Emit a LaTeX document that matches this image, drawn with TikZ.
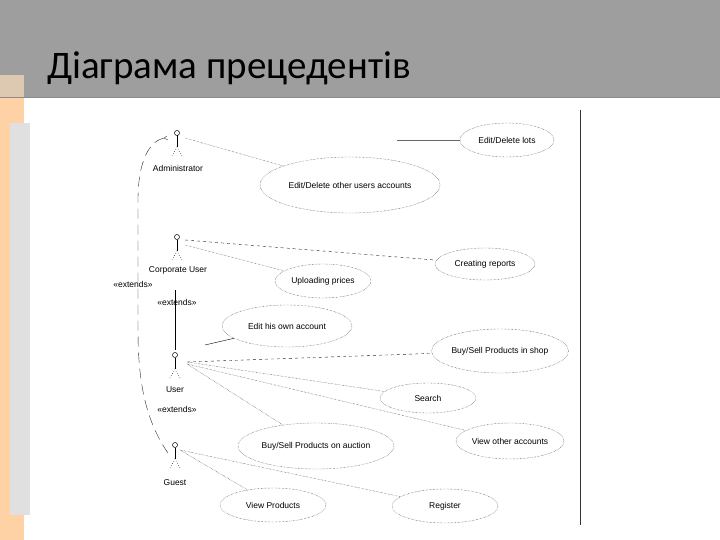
\documentclass[tikz,border=0pt]{standalone}
\usepackage{fontspec}
\usetikzlibrary{shapes.geometric}
\setmainfont{Liberation Sans}
\newfontfamily\titlefont{Carlito}
\begin{document}
\begin{tikzpicture}[x=1pt,y=-1pt,
  uc/.style={draw=black!85,densely dotted,ellipse,inner sep=0pt,font=\fontsize{8.5}{10}\selectfont},
  lbl/.style={font=\fontsize{8.5}{10}\selectfont,inner sep=1pt},
  dot/.style={draw=black!85,densely dotted},
  dsh/.style={draw=black!85,dashed},
  actorsty/.style={draw=black,line width=0.5pt}]
\useasboundingbox (0,0) rectangle (720,540);
\fill[white] (0,0) rectangle (720,540);
\fill[black!38] (0,0) rectangle (720,97);
\fill[orange!35] (0,98) rectangle (24,540);
\fill[orange!55!black!30] (0,75) rectangle (24,98);
\fill[black!12] (10,123) rectangle (30,515);
\draw[black!45] (0,97.5) -- (720,97.5);
\node[anchor=base west,inner sep=0pt,font=\titlefont\fontsize{39}{44}\selectfont] (title) at (47,79) {Діаграма прецедентів};
\draw[black!80] (580,110) -- (580,525);
\newcommand\actor[3]{%
 \draw[actorsty] (#2,#3) circle (2.5);
 \draw[actorsty] (#2,#3+2.5) -- (#2,#3+14);
 \draw[actorsty,dotted] (#2-5,#3+23) -- (#2,#3+14) -- (#2+5,#3+23);
 \coordinate (#1) at (#2,#3);}
\actor{adm}{177}{133}
\actor{corp}{177}{237}
\actor{usr}{175}{355}
\actor{gst}{175}{445}
\node[lbl] (admL) at (178,168) {Administrator};
\node[lbl] (corpL) at (178,270) {Corporate User};
\node[lbl] (usrL) at (175,390) {User};
\node[lbl] (gstL) at (175,483) {Guest};
\node[uc,minimum width=94pt,minimum height=34pt] (lots) at (507,140) {Edit/Delete lots};
\node[uc,minimum width=180pt,minimum height=56pt] (other) at (350,185) {Edit/Delete other users accounts};
\node[uc,minimum width=100pt,minimum height=32pt] (rep) at (485,264) {Creating reports};
\node[uc,minimum width=96pt,minimum height=34pt] (upl) at (323,281) {Uploading prices};
\node[uc,minimum width=130pt,minimum height=42pt] (own) at (287,326) {Edit his own account};
\node[uc,minimum width=136pt,minimum height=44pt] (shop) at (500,351) {Buy/Sell Products in shop};
\node[uc,minimum width=96pt,minimum height=30pt] (srch) at (428,398) {Search};
\node[uc,minimum width=96pt,minimum height=36pt] (view) at (510,441) {View other accounts};
\node[uc,minimum width=156pt,minimum height=46pt] (auc) at (316,446) {Buy/Sell Products on auction};
\node[uc,minimum width=106pt,minimum height=34pt] (vp) at (273,505) {View Products};
\node[uc,minimum width=106pt,minimum height=34pt] (reg) at (445,506) {Register};
\coordinate (lotsEnd) at (397,140);
\draw[black!60] (lotsEnd) -- (lots);
\draw[dot] ([shift={(8,5)}]adm) -- (other);
\draw[dsh] ([shift={(8,3)}]corp) -- (rep);
\draw[dot] ([shift={(8,8)}]corp) -- (upl);
\coordinate (ownS) at (205,345);
\draw[black] (ownS) -- (own);
\draw[dsh] ([shift={(12,7)}]usr) -- (shop);
\draw[dot] ([shift={(12,7)}]usr) -- (srch);
\draw[dot] ([shift={(12,9)}]usr) -- (view);
\draw[dot] ([shift={(12,9)}]usr) -- (auc);
\draw[dot] ([shift={(5,5)}]gst) -- (vp);
\draw[dot] ([shift={(5,5)}]gst) -- (reg);
% extends relations
\draw[black!85,dash pattern=on 10pt off 6pt] ([shift={(-7,8)}]gst) .. controls (145,420) and (138,380) .. (138,330) -- (138,200) .. controls (138,160) and (150,140) .. ([shift={(-12,5)}]adm);
\draw[black!85] ([shift={(-10,3)}]adm) -- ([shift={(-13,5)}]adm) -- ([shift={(-9,7)}]adm);
\coordinate (ext1) at (175,290);
\draw[black] (ext1) -- ([shift={(0,-5)}]usr);
\node[lbl] (e1) at (133,284) {«extends»};
\node[lbl] (e2) at (177,302) {«extends»};
\node[lbl] (e3) at (177,409) {«extends»};
\end{tikzpicture}
\end{document}
